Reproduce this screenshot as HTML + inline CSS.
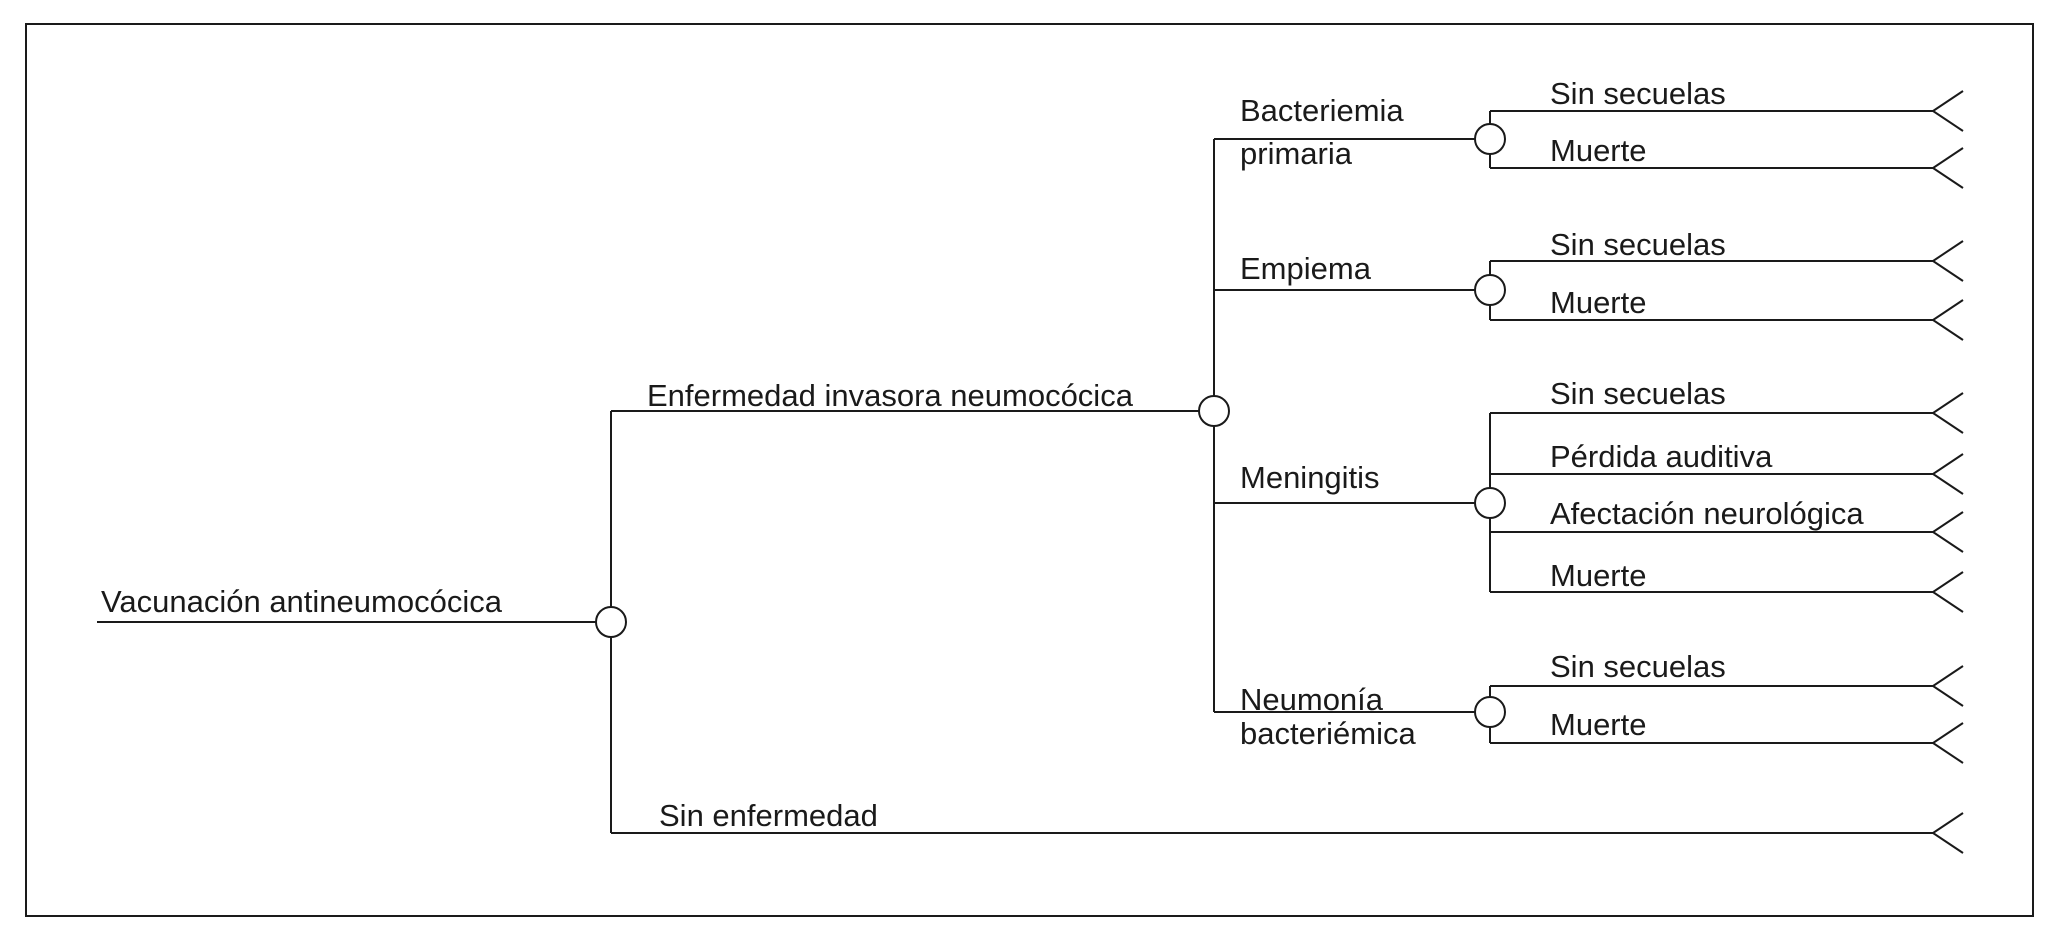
<!DOCTYPE html>
<html><head><meta charset="utf-8"><style>
html,body{margin:0;padding:0;background:#fff}
svg{display:block}
text{font-family:"Liberation Sans",Arial,sans-serif;font-size:31px;fill:#1a1a1a}
</style></head><body>
<svg width="2058" height="933" viewBox="0 0 2058 933" xmlns="http://www.w3.org/2000/svg">
<g fill="none" stroke="#1a1a1a" stroke-width="2">
<rect x="26" y="24" width="2007" height="892"/>
<path d="M97 622H596M611 411V833M611 411H1199M611 833H1933"/>
<circle cx="611" cy="622" r="15" fill="#fff"/>
<path d="M1214 139V712M1214 139H1475M1214 290H1475M1214 503H1475M1214 712H1475"/>
<circle cx="1214" cy="411" r="15" fill="#fff"/>
<path d="M1490 111V168M1490 261V320M1490 413V592M1490 686V743"/>
<path d="M1490 111H1933M1490 168H1933M1490 261H1933M1490 320H1933M1490 413H1933M1490 474H1933M1490 532H1933M1490 592H1933M1490 686H1933M1490 743H1933"/>
<circle cx="1490" cy="139" r="15" fill="#fff"/>
<circle cx="1490" cy="290" r="15" fill="#fff"/>
<circle cx="1490" cy="503" r="15" fill="#fff"/>
<circle cx="1490" cy="712" r="15" fill="#fff"/>
<path d="M1963 91L1933 111L1963 131M1963 148L1933 168L1963 188M1963 241L1933 261L1963 281M1963 300L1933 320L1963 340M1963 393L1933 413L1963 433M1963 454L1933 474L1963 494M1963 512L1933 532L1963 552M1963 572L1933 592L1963 612M1963 666L1933 686L1963 706M1963 723L1933 743L1963 763M1963 813L1933 833L1963 853"/>
</g>
<text x="101" y="612">Vacunación antineumocócica</text>
<text x="647" y="406">Enfermedad invasora neumocócica</text>
<text x="659" y="826">Sin enfermedad</text>
<text x="1240" y="121">Bacteriemia</text>
<text x="1240" y="164">primaria</text>
<text x="1240" y="279">Empiema</text>
<text x="1240" y="488">Meningitis</text>
<text x="1240" y="710">Neumonía</text>
<text x="1240" y="744">bacteriémica</text>
<text x="1550" y="104">Sin secuelas</text>
<text x="1550" y="161">Muerte</text>
<text x="1550" y="255">Sin secuelas</text>
<text x="1550" y="313">Muerte</text>
<text x="1550" y="404">Sin secuelas</text>
<text x="1550" y="467">Pérdida auditiva</text>
<text x="1550" y="524">Afectación neurológica</text>
<text x="1550" y="586">Muerte</text>
<text x="1550" y="677">Sin secuelas</text>
<text x="1550" y="735">Muerte</text>
</svg>
</body></html>
